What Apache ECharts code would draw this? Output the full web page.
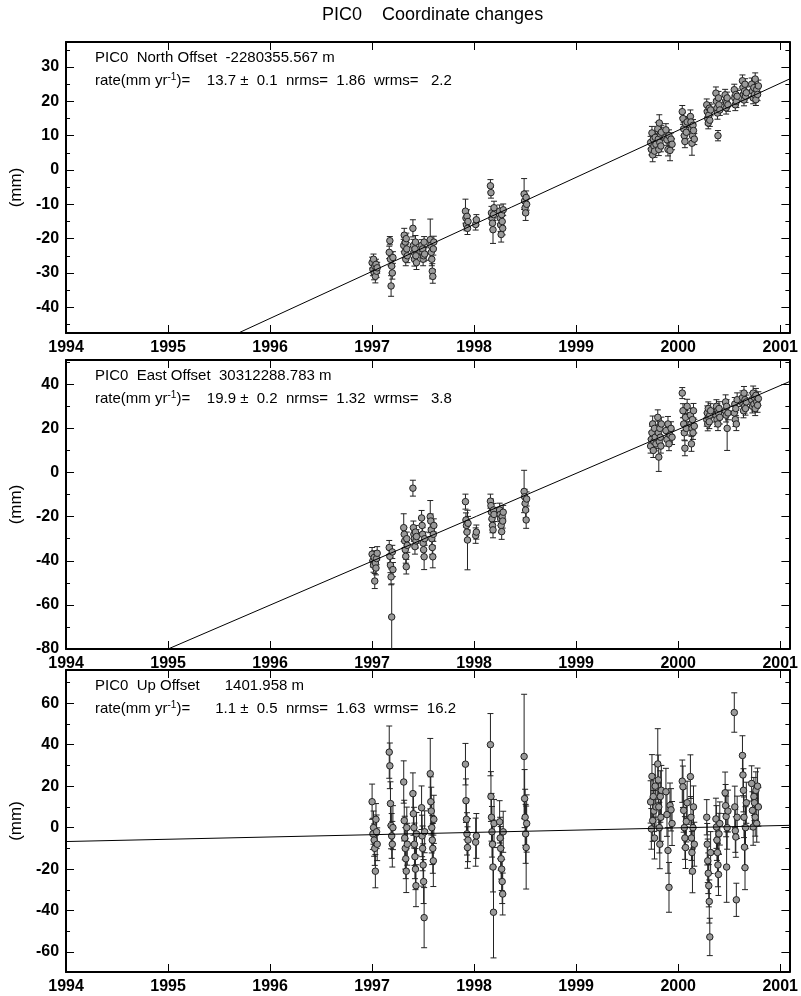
<!DOCTYPE html>
<html>
<head>
<meta charset="utf-8">
<script src="https://cdn.jsdelivr.net/npm/echarts@6/dist/echarts.min.js"></script>
<style>
  html, body { margin: 0; padding: 0; background: #fff; }
  #chart { width: 801px; height: 996px; }
</style>
</head>
<body>
<div id="chart"></div>
<script>
// observation epochs (decimal years), shared by the three components
const epochs = [
  1997.000, 1997.008, 1997.014, 1997.020, 1997.026, 1997.032, 1997.038, 1997.044, 1997.050,
  1997.168, 1997.174, 1997.180, 1997.186, 1997.192, 1997.198, 1997.204,
  1997.310, 1997.315, 1997.320, 1997.325, 1997.330, 1997.335, 1997.340, 1997.345,
  1997.400, 1997.405, 1997.410, 1997.415, 1997.420, 1997.425, 1997.430, 1997.435,
  1997.485, 1997.490, 1997.495, 1997.500, 1997.505, 1997.510, 1997.515,
  1997.570, 1997.575, 1997.580, 1997.585, 1997.590, 1997.595, 1997.600, 1997.605,
  1997.915, 1997.920, 1997.925, 1997.930, 1997.935, 1997.940,
  1998.015, 1998.022,
  1998.160, 1998.165, 1998.170, 1998.175, 1998.180, 1998.185, 1998.190, 1998.195,
  1998.250, 1998.255, 1998.260, 1998.265, 1998.270, 1998.275, 1998.280, 1998.285,
  1998.490, 1998.495, 1998.500, 1998.505, 1998.510, 1998.515,
  1999.730, 1999.737, 1999.743, 1999.750, 1999.756, 1999.762, 1999.768, 1999.775, 1999.782,
  1999.800, 1999.805, 1999.810, 1999.815, 1999.820, 1999.825, 1999.830, 1999.835,
  1999.880, 1999.890, 1999.900, 1999.910, 1999.920, 1999.930, 1999.940,
  2000.040, 2000.047, 2000.054, 2000.060, 2000.066, 2000.072, 2000.080, 2000.088,
  2000.120, 2000.125, 2000.130, 2000.135, 2000.140, 2000.145, 2000.150, 2000.158,
  2000.280, 2000.285, 2000.290, 2000.295, 2000.300, 2000.305, 2000.310, 2000.318,
  2000.370, 2000.375, 2000.380, 2000.385, 2000.390, 2000.395, 2000.400, 2000.408,
  2000.460, 2000.465, 2000.470, 2000.475, 2000.480, 2000.488,
  2000.550, 2000.555, 2000.560, 2000.565, 2000.570, 2000.578,
  2000.630, 2000.635, 2000.640, 2000.645, 2000.650, 2000.655, 2000.660, 2000.668,
  2000.720, 2000.728, 2000.735, 2000.742, 2000.748, 2000.755, 2000.762, 2000.770, 2000.778, 2000.786
];

// north (mm)
const north = [
  -27, -29, -26, -30, -28, -31, -27.5, -29.5, -28.5,
  -24, -20.6, -26, -33.8, -28, -30, -25.5,
  -22, -19, -24, -21, -26, -20, -23, -25,
  -17, -22, -24, -26, -23, -21, -25, -27,
  -22, -24, -23, -26, -25, -21, -24.5,
  -20.3, -22, -24, -26, -29.5, -31, -23, -21,
  -12, -14, -16, -13.5, -17, -15,
  -15.9, -14.5,
  -4.6, -6.6, -12.5, -14, -15.5, -17.4, -13, -11,
  -12, -14, -16, -18.8, -13, -15, -17, -11.6,
  -7, -9, -11, -12.5, -8, -10,
  8, 6, 10.8, 4.4, 9, 7, 5.5, 9.5, 7.5,
  12, 9, 6, 13.7, 8, 10.5, 7, 11,
  11.7, 8.8, 6, 10, 5.7, 9, 7.5,
  17, 15, 12, 10, 8.3, 13.5, 11, 14,
  15.6, 14, 12, 7.8, 10, 13, 11.5, 9,
  19, 17, 15, 13.7, 16, 18, 14.5, 17.5,
  22.4, 20, 18, 16.6, 10, 21, 19, 17.5,
  21.9, 20, 18.1, 19.5, 21, 19,
  23.4, 21, 19, 22, 20, 21.5,
  26, 24, 22, 20.4, 23, 25, 21.5, 22.5,
  25, 23, 21, 24, 22, 26.5, 20.5, 23.5, 22, 24.5
];
const northSig = [
  1.6, 1.8, 1.5, 2.0, 1.7, 1.9, 1.5, 1.8, 1.6,
  1.8, 1.2, 1.9, 3.0, 2.0, 1.8, 1.7,
  1.8, 2.0, 1.7, 2.2, 1.9, 1.6, 1.8, 2.0,
  2.5, 1.8, 1.7, 2.0, 1.6, 1.9, 1.8, 2.0,
  1.7, 1.6, 1.8, 1.9, 1.7, 1.6, 1.8,
  6.0, 1.8, 2.0, 1.9, 2.2, 2.0, 1.8, 1.7,
  3.5, 1.8, 1.7, 1.9, 1.8, 1.6,
  1.6, 1.5,
  1.8, 1.6, 1.9, 2.0, 1.8, 4.0, 1.7, 1.9,
  1.8, 1.7, 1.9, 2.2, 1.6, 1.8, 1.9, 1.7,
  4.5, 2.0, 1.8, 2.2, 1.9, 1.7,
  1.8, 1.6, 1.9, 2.0, 1.7, 1.6, 1.8, 1.9, 1.7,
  1.9, 1.7, 1.8, 2.4, 1.6, 1.8, 1.7, 1.9,
  1.8, 1.6, 1.9, 1.7, 3.0, 1.8, 1.6,
  1.8, 1.7, 1.9, 1.6, 1.8, 1.7, 1.9, 1.6,
  1.9, 1.7, 1.6, 3.5, 1.8, 1.7, 1.9, 1.6,
  1.7, 1.6, 1.8, 1.7, 1.9, 1.6, 1.8, 1.7,
  1.8, 1.7, 1.6, 1.8, 1.5, 1.9, 1.7, 1.6,
  1.6, 1.7, 1.8, 1.6, 1.7, 1.9,
  1.6, 1.8, 1.7, 1.6, 1.8, 1.7,
  1.7, 1.6, 1.8, 1.7, 1.9, 1.6, 1.8, 1.7,
  1.8, 1.6, 1.7, 1.9, 1.6, 1.8, 1.7, 1.6, 1.8, 1.7
];

// east (mm)
const east = [
  -37, -40, -42, -38.5, -49.2, -41, -43.3, -39, -36.6,
  -34, -38, -42, -47.3, -65.5, -36, -44,
  -25, -28, -31, -35, -38, -42.7, -30, -33,
  -7.1, -25, -28, -30, -33.6, -27, -31, -29,
  -20.6, -24, -28, -32, -35, -38.2, -30,
  -20, -22, -26, -30, -34, -38.2, -28, -24,
  -13.2, -21.5, -24, -27, -30.6, -23,
  -28.6, -27,
  -13, -15, -18, -21, -24, -26, -17, -19,
  -17, -19, -21, -24, -26.8, -20, -22, -18,
  -8.6, -11, -14, -17, -21.5, -12,
  12, 15, 18, 22, 10, 14, 20, 16, 13,
  25, 18, 7, 14, 20, 16, 12, 22,
  19, 15, 22, 13, 17, 20, 16,
  36, 28, 22, 18, 11, 25, 20, 30,
  26, 22, 13, 20, 24, 18, 28, 21,
  24, 27, 22, 29, 25, 23, 26, 28,
  26, 30, 24, 28, 22, 27, 29, 25,
  28, 32, 26, 30, 20, 27,
  27, 31, 24, 29, 22, 33,
  34, 31, 28, 36, 30, 33, 29, 32,
  33, 30, 36, 31, 34, 29, 35, 32, 30.5, 33.5
];
const eastSig = [
  3.0, 2.8, 3.2, 3.0, 3.4, 2.9, 3.1, 2.8, 3.0,
  3.2, 3.0, 3.4, 3.6, 15.0, 3.0, 3.2,
  6.3, 3.2, 3.0, 3.4, 3.1, 3.3, 3.0, 3.2,
  3.6, 3.0, 3.2, 3.1, 3.4, 3.0, 3.2, 3.1,
  3.4, 3.2, 3.0, 3.3, 3.1, 5.8, 3.0,
  7.3, 3.2, 3.0, 3.4, 3.1, 5.0, 3.2, 3.0,
  3.4, 3.2, 3.0, 3.3, 13.5, 3.1,
  3.5, 3.2,
  3.2, 3.0, 3.4, 3.1, 3.3, 3.6, 3.0, 3.2,
  3.1, 3.3, 3.0, 3.2, 3.5, 3.0, 3.2, 3.1,
  9.6, 3.4, 3.2, 3.6, 3.8, 3.2,
  3.2, 3.4, 3.0, 3.6, 3.2, 3.1, 3.3, 3.0, 3.2,
  3.4, 3.1, 6.5, 3.2, 3.3, 3.0, 3.2, 3.1,
  3.2, 3.0, 3.4, 3.1, 3.2, 3.0, 3.3,
  2.5, 3.2, 3.0, 3.3, 3.4, 3.1, 3.0, 3.2,
  3.2, 3.0, 3.4, 3.1, 3.2, 3.0, 3.3, 3.1,
  3.0, 3.2, 3.1, 3.0, 3.2, 3.1, 3.0, 3.2,
  3.1, 3.0, 3.2, 3.1, 3.0, 3.2, 3.1, 3.0,
  3.0, 3.2, 3.1, 3.0, 10.0, 3.1,
  3.2, 3.0, 3.1, 3.2, 3.0, 3.1,
  3.0, 3.1, 3.2, 3.0, 3.1, 3.2, 3.0, 3.1,
  3.1, 3.0, 3.2, 3.1, 3.0, 3.2, 3.1, 3.0, 3.2, 3.1
];

// up (mm)
const up = [
  12.5, -3, 0, -6, -10, -21, 4, -2, -8,
  36.4, 29.8, 11.6, 1, -4, -8, 0,
  22, 3.4, -5, -10, -15, -21, 0, -8,
  16.4, 6.7, 0, -8, -14, -20, -28, -3,
  9.6, -4, -10, -18, -26, -43.4, -2,
  26, 12.5, 8, 0, -6, -10, -16, 4,
  30.6, 13, 4, -3, -9.6, -6,
  -7, -4,
  40, 15, 5, -2, -8, -19, -40.8, 2,
  2.8, -5, -10, -15, -20, -26, -32, -2,
  34.3, 14, 5, -3, -9.6, 2,
  12.4, -0.6, 24.7, 3.4, 15, 8, -5, 20, 10,
  30.7, 23, 10, 0, -8, 15, 5, 18,
  17.3, 6.3, -11, -28.8, 10.7, 8.6, 2,
  22.4, 19.7, 8.3, 0, -5, -9.6, 3, 12,
  24.6, 5, -5, -12, -21, 0, 10, -8,
  5, -8, -16, -22, -28, -35.6, -52.7, -12,
  4.2, 0.3, -6, -12, -18, -22.6, -3, 2,
  16.8, 10.6, 5.4, -19, 0, 8,
  55.5, 10, -1.5, -4.5, -34.8, 5,
  34.8, 25.4, 18, 5, -9.4, -19.3, 0, 12,
  21.3, 8.3, 0.3, 15, 12, 5, 18, 2, 20, 10
];
const upSig = [
  8.5, 7.5, 8.0, 7.8, 8.2, 8.0, 7.6, 8.1, 7.9,
  12.6, 11.0, 10.5, 11.2, 10.8, 11.0, 10.6,
  10.2, 9.8, 10.5, 10.0, 9.6, 10.3, 9.9, 10.1,
  10.0, 10.4, 9.8, 10.2, 10.6, 9.9, 10.1, 10.3,
  10.5, 10.0, 10.8, 10.2, 10.6, 14.5, 10.1,
  17.0, 12.0, 11.5, 12.2, 11.8, 12.0, 12.4, 11.6,
  10.0, 10.5, 9.8, 10.2, 10.0, 10.4,
  11.6, 10.8,
  15.0, 12.0, 11.5, 12.2, 11.8, 12.0, 22.0, 11.6,
  10.2, 10.0, 10.5, 9.8, 10.3, 10.6, 10.1, 9.9,
  30.0, 14.0, 13.5, 14.2, 20.0, 13.8,
  10.2, 9.8, 10.5, 10.0, 10.3, 9.9, 10.1, 10.4, 9.7,
  17.0, 12.0, 11.5, 12.2, 11.8, 12.4, 11.6, 12.0,
  11.3, 10.5, 11.0, 12.0, 10.8, 10.2, 10.6,
  10.2, 10.0, 10.5, 9.8, 10.3, 10.1, 9.9, 10.4,
  10.5, 10.0, 10.8, 10.2, 10.4, 9.9, 10.1, 10.6,
  8.5, 10.0, 10.5, 9.8, 10.2, 10.4, 9.0, 10.1,
  10.0, 10.3, 9.8, 10.2, 10.5, 10.1, 9.9, 10.4,
  10.0, 10.2, 9.8, 17.0, 10.4, 10.1,
  9.5, 10.0, 10.4, 9.8, 8.0, 10.2,
  9.5, 10.0, 10.4, 9.8, 10.2, 10.6, 10.1, 9.9,
  8.5, 9.0, 8.8, 9.2, 8.6, 9.1, 8.9, 9.0, 8.7, 9.3
];

// fitted linear trends, given at the two ends of the time axis
const trendT = [1994, 2001.09];
const northTrend = [-70.65, 26.5];
const eastTrend = [-99.9, 41.2];
const upTrend = [-6.7, 1.1];

// tick values
const yearTicks = [1994, 1995, 1996, 1997, 1998, 1999, 2000, 2001];
const northTicks = [-40, -30, -20, -10, 0, 10, 20, 30];
const northMinor = [-45, -35, -25, -15, -5, 5, 15, 25, 35];
const eastTicks = [-80, -60, -40, -20, 0, 20, 40];
const eastMinor = [-70, -50, -30, -10, 10, 30, 50];
const upTicks = [-60, -40, -20, 0, 20, 40, 60];
const upMinor = [-50, -30, -10, 10, 30, 50, 70];

const FONT = '"Liberation Sans", Arial, Helvetica, sans-serif';

const panels = [
  {
    values: north, sigmas: northSig, trend: northTrend,
    min: -47.5, max: 37.3, ticks: northTicks, minor: northMinor,
    top: 42, height: 291,
    head: 'PIC0  North Offset  -2280355.567 m',
    rate: '    13.7 \u00b1  0.1  nrms=  1.86  wrms=   2.2'
  },
  {
    values: east, sigmas: eastSig, trend: eastTrend,
    min: -80, max: 51, ticks: eastTicks, minor: eastMinor,
    top: 360, height: 289,
    head: 'PIC0  East Offset  30312288.783 m',
    rate: '    19.9 \u00b1  0.2  nrms=  1.32  wrms=   3.8'
  },
  {
    values: up, sigmas: upSig, trend: upTrend,
    min: -69.6, max: 76, ticks: upTicks, minor: upMinor,
    top: 670, height: 302,
    head: 'PIC0  Up Offset      1401.958 m',
    rate: '      1.1 \u00b1  0.5  nrms=  1.63  wrms=  16.2'
  }
];

const GRID_LEFT = 66;
const GRID_RIGHT = 7;

function renderErrorBar(params, api) {
  const t = api.value(0);
  const v = api.value(1);
  const s = api.value(2);
  const hi = api.coord([t, v + s]);
  const lo = api.coord([t, v - s]);
  const w = 3;
  const style = { stroke: '#222', lineWidth: 1 };
  return {
    type: 'group',
    children: [
      { type: 'line', shape: { x1: hi[0], y1: hi[1], x2: lo[0], y2: lo[1] }, style },
      { type: 'line', shape: { x1: hi[0] - w, y1: hi[1], x2: hi[0] + w, y2: hi[1] }, style },
      { type: 'line', shape: { x1: lo[0] - w, y1: lo[1], x2: lo[0] + w, y2: lo[1] }, style }
    ]
  };
}

const grid = [];
const xAxis = [];
const yAxis = [];
const series = [];
const graphic = [];

const labelStyle = { color: '#000', fontSize: 16, fontWeight: 'bold', fontFamily: FONT };

panels.forEach((p, g) => {
  grid.push({ left: GRID_LEFT, right: GRID_RIGHT, top: p.top, height: p.height });

  ['bottom', 'top'].forEach(pos => {
    xAxis.push({
      gridIndex: g, type: 'value', position: pos,
      min: 1994, max: 2001.09,
      axisLine: { onZero: false, lineStyle: { color: '#000', width: 2 } },
      axisTick: { inside: true, length: 8, customValues: yearTicks, lineStyle: { color: '#000', width: 1 } },
      axisLabel: {
        show: pos === 'bottom', customValues: yearTicks, margin: 7,
        formatter: v => String(v), ...labelStyle
      },
      splitLine: { show: false }
    });
  });

  ['left', 'right'].forEach(pos => {
    yAxis.push({
      gridIndex: g, type: 'value', position: pos,
      min: p.min, max: p.max,
      axisLine: { onZero: false, lineStyle: { color: '#000', width: 2 } },
      axisTick: { inside: true, length: 8, customValues: p.ticks, lineStyle: { color: '#000', width: 1 } },
      axisLabel: {
        show: pos === 'left', customValues: p.ticks, margin: 7,
        formatter: v => String(v), ...labelStyle
      },
      splitLine: { show: false },
      name: pos === 'left' ? '(mm)' : '',
      nameLocation: 'middle', nameGap: 40, nameRotate: 90,
      nameTextStyle: { color: '#000', fontSize: 17, fontFamily: FONT }
    });
    yAxis.push({
      gridIndex: g, type: 'value', position: pos,
      min: p.min, max: p.max,
      axisLine: { show: false, onZero: false },
      axisTick: { inside: true, length: 4, customValues: p.minor, lineStyle: { color: '#000', width: 1 } },
      axisLabel: { show: false },
      splitLine: { show: false }
    });
  });

  const xi = 2 * g;
  const yi = 4 * g;

  series.push({
    type: 'line', xAxisIndex: xi, yAxisIndex: yi,
    data: trendT.map((t, i) => [t, p.trend[i]]),
    showSymbol: false, clip: true, silent: true,
    lineStyle: { color: '#000', width: 1 }
  });
  series.push({
    type: 'custom', xAxisIndex: xi, yAxisIndex: yi,
    data: epochs.map((t, i) => [t, p.values[i], p.sigmas[i]]),
    encode: { x: 0, y: 1 },
    renderItem: renderErrorBar, clip: true, silent: true
  });
  series.push({
    type: 'scatter', xAxisIndex: xi, yAxisIndex: yi,
    data: epochs.map((t, i) => [t, p.values[i]]),
    symbol: 'circle', symbolSize: 6.5, silent: true,
    itemStyle: { color: '#9a9a9a', borderColor: '#222', borderWidth: 1, opacity: 1 }
  });

  graphic.push({
    type: 'text', left: 95, top: p.top + 8,
    style: { text: p.head, fill: '#000', font: '15px ' + FONT }
  });
  graphic.push({
    type: 'text', left: 95, top: p.top + 30,
    style: {
      text: '{a|rate(mm yr}{s|-1}{a|)=' + p.rate + '}',
      rich: {
        a: { fontSize: 15, fontFamily: FONT, color: '#000', lineHeight: 18 },
        s: { fontSize: 10, fontFamily: FONT, color: '#000', verticalAlign: 'top', lineHeight: 18 }
      }
    }
  });
});

graphic.push({
  type: 'text', left: 322, top: 6,
  style: { text: 'PIC0    Coordinate changes', fill: '#000', font: '18px ' + FONT }
});

const chart = echarts.init(document.getElementById('chart'), null, { renderer: 'canvas' });
chart.setOption({
  animation: false,
  backgroundColor: '#fff',
  grid,
  xAxis,
  yAxis,
  series,
  graphic
});
</script>
</body>
</html>
